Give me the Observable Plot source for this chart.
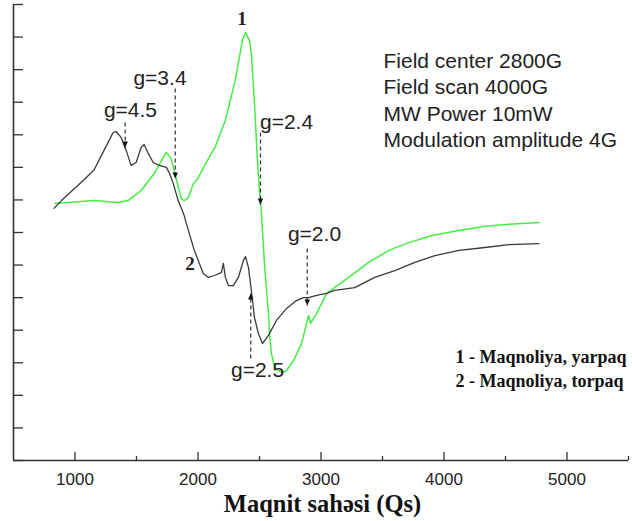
<!DOCTYPE html>
<html><head><meta charset="utf-8">
<script src="https://cdn.jsdelivr.net/npm/d3@7"></script>
<script src="https://cdn.jsdelivr.net/npm/@observablehq/plot@0.6"></script>
<style>
html,body{margin:0;padding:0;background:#fff;}
</style></head><body><div id="chart"></div>
<script>
// Curve 2 (black): Maqnoliya, torpaq
const blackField = [829, 890, 951, 1010, 1073, 1155, 1236, 1310, 1334, 1375, 1416, 1456, 1497, 1538, 1562, 1595, 1636, 1685, 1742, 1766, 1799, 1839, 1888, 1905, 1970, 2043, 2084, 2133, 2190, 2206, 2223, 2247, 2288, 2328, 2369, 2386, 2410, 2434, 2459, 2491, 2524, 2573, 2638, 2720, 2801, 2858, 2899, 2964, 3046, 3111, 3274, 3437, 3600, 3763, 3926, 4121, 4333, 4529, 4773];
const blackSignal = [7.74, 7.98, 8.20, 8.40, 8.62, 8.92, 9.52, 10.07, 10.10, 9.92, 9.52, 9.06, 9.15, 9.61, 9.70, 9.43, 9.15, 9.06, 9.00, 8.84, 8.50, 7.98, 7.52, 7.28, 6.45, 5.74, 5.62, 5.68, 5.77, 6.05, 5.62, 5.37, 5.37, 5.62, 6.14, 6.26, 5.93, 5.22, 4.39, 3.90, 3.59, 3.84, 4.30, 4.67, 4.91, 5.00, 5.00, 5.07, 5.13, 5.22, 5.31, 5.62, 5.83, 6.08, 6.29, 6.45, 6.54, 6.63, 6.66];
// Curve 1 (green): Maqnoliya, yarpaq
const greenField = [837, 943, 1155, 1350, 1432, 1538, 1644, 1742, 1782, 1820, 1864, 1888, 1921, 1962, 1994, 2059, 2141, 2222, 2303, 2361, 2386, 2418, 2434, 2459, 2483, 2500, 2516, 2540, 2573, 2581, 2597, 2622, 2679, 2720, 2777, 2842, 2883, 2899, 2915, 2964, 3046, 3225, 3388, 3551, 3714, 3901, 4121, 4333, 4529, 4773];
const greenSignal = [7.89, 7.92, 7.98, 7.92, 7.98, 8.29, 8.81, 9.46, 9.27, 8.69, 8.04, 7.98, 8.07, 8.50, 8.63, 9.09, 9.64, 10.44, 11.67, 12.90, 13.14, 12.90, 12.50, 10.96, 9.21, 8.29, 7.58, 6.05, 4.51, 3.90, 3.29, 2.86, 2.70, 2.76, 3.07, 3.59, 4.21, 4.45, 4.21, 4.51, 5.13, 5.62, 6.08, 6.45, 6.69, 6.91, 7.06, 7.19, 7.25, 7.31];

const xDomain = [500, 5500];
const yDomain = [0, 14];
const xTicks = [1000, 2000, 3000, 4000, 5000];
const xMinorTicks = [1500, 2500, 3500, 4500, 5500];
const yTicks = [0, 1, 2, 3, 4, 5, 6, 7, 8, 9, 10, 11, 12, 13, 14];

// g-factor markers
const gLabels = ["g=4.5", "g=3.4", "g=2.4", "g=2.0", "g=2.5"];
const gField = [1408, 1815, 2508, 2888, 2429];
const gFrom = [10.38, 11.42, 10.07, 6.51, 3.13];
const gTo = [9.61, 8.66, 7.86, 4.76, 5.13];
const gLabelField = [1451, 1691, 2720, 2947, 2484];
const gLabelSignal = [10.75, 11.73, 10.39, 6.94, 2.76];

const curveLabels = ["1", "2"];
const curveLabelField = [2358, 1935];
const curveLabelSignal = [13.57, 6.05];

const infoLines = ["Field center 2800G", "Field scan 4000G", "MW Power 10mW", "Modulation amplitude 4G"];
const legendLines = ["1 - Maqnoliya, yarpaq", "2 - Maqnoliya, torpaq"];
const xLabel = "Maqnit sahəsi (Qs)";

const sans = "'Liberation Sans', Arial, Helvetica, sans-serif";
const serif = "'Liberation Serif', 'Times New Roman', 'DejaVu Serif', serif";

const gData = gLabels.map((t, i) => ({t, x: gField[i], y1: gFrom[i], y2: gTo[i], lx: gLabelField[i], ly: gLabelSignal[i], down: gTo[i] < gFrom[i]}));

const downTri = {draw(ctx, size) { const h = Math.sqrt(size) * 1.3, w = h * 0.45; ctx.moveTo(-w, -h); ctx.lineTo(w, -h); ctx.lineTo(0, 0); ctx.closePath(); }};
const upTri = {draw(ctx, size) { const h = Math.sqrt(size) * 1.3, w = h * 0.45; ctx.moveTo(-w, h); ctx.lineTo(w, h); ctx.lineTo(0, 0); ctx.closePath(); }};

const chart = Plot.plot({
  width: 632, height: 521,
  marginLeft: 13, marginRight: 4, marginTop: 4, marginBottom: 61,
  style: {fontFamily: sans, background: "#fff", color: "#222"},
  x: {domain: xDomain},
  y: {domain: yDomain},
  marks: [
    Plot.axisY(yTicks, {tickSize: -10, tickFormat: () => "", label: null, strokeWidth: 1.3, stroke: "#333"}),
    Plot.axisX(xTicks, {tickSize: -8, tickFormat: () => "", label: null, strokeWidth: 1.3, stroke: "#333"}),
    Plot.axisX(xMinorTicks, {tickSize: -4, tickFormat: () => "", label: null, strokeWidth: 1.3, stroke: "#333"}),
    Plot.axisX(xTicks, {tickSize: 0, tickPadding: 12, fontSize: 17, tickFormat: d => String(d), label: null, fill: "#222"}),
    Plot.ruleX([xDomain[0]], {stroke: "#333", strokeWidth: 1.6}),
    Plot.ruleY([yDomain[0]], {stroke: "#333", strokeWidth: 1.6}),
    Plot.line(greenSignal, {x: greenField, y: greenSignal, stroke: "#44ee44", strokeWidth: 1.5}),
    Plot.line(blackSignal, {x: blackField, y: blackSignal, stroke: "#3a3a3a", strokeWidth: 1.3}),
    Plot.link(gData, {x1: "x", x2: "x", y1: "y1", y2: "y2", stroke: "#333", strokeWidth: 1.2, strokeDasharray: "4,3"}),
    Plot.dot(gData.filter(d => d.down), {x: "x", y: "y2", symbol: downTri, r: 2.6, fill: "#111", stroke: "none"}),
    Plot.dot(gData.filter(d => !d.down), {x: "x", y: "y2", symbol: upTri, r: 2.6, fill: "#111", stroke: "none"}),
    Plot.text(gData, {x: "lx", y: "ly", text: "t", fontSize: 21, textAnchor: "middle", lineAnchor: "middle", fill: "#222"}),
    Plot.text(curveLabels, {x: curveLabelField, y: curveLabelSignal, text: d => d, fontSize: 19, fontWeight: "bold", fontFamily: serif, fill: "#222", lineAnchor: "middle"}),
    Plot.text([infoLines.join("\n")], {frameAnchor: "top-left", dx: 370, dy: 45, textAnchor: "start", lineAnchor: "top", lineHeight: 1.25, fontSize: 21, fill: "#222"}),
    Plot.text([legendLines.join("\n")], {frameAnchor: "top-left", dx: 442, dy: 342, textAnchor: "start", lineAnchor: "top", lineHeight: 1.33, fontSize: 18, fontWeight: "bold", fontFamily: serif, fill: "#111"}),
    Plot.text([xLabel], {frameAnchor: "bottom", dx: 1.5, dy: 34, lineAnchor: "top", fontSize: 24.5, fontWeight: "bold", fontFamily: serif, fill: "#111"})
  ]
});
document.getElementById("chart").appendChild(chart);
</script>
</body></html>
